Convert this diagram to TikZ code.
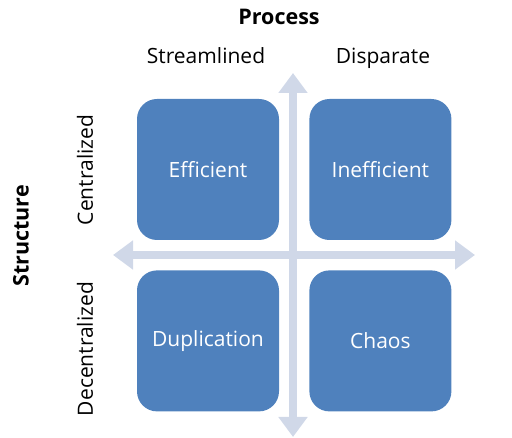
\documentclass[tikz,border=0pt]{standalone}
\usepackage{fontspec}
\setmainfont{Open Sans}
\usetikzlibrary{arrows.meta,positioning}
\definecolor{quadblue}{RGB}{79,129,189}
\definecolor{axisgrey}{RGB}{208,216,232}

\begin{document}
\begin{tikzpicture}[x=1pt,y=-1pt,quad/.style={fill=quadblue,rounded corners=20pt,minimum width=142pt,minimum height=141pt,text=white,font=\fontsize{21}{25}\selectfont,inner sep=0pt},lbl/.style={font=\fontsize{21}{25}\selectfont,inner sep=0pt},axis/.style={{Triangle[width=28pt,length=20pt]}-{Triangle[width=28pt,length=20pt]},line width=8pt,draw=axisgrey}]
\useasboundingbox (0,0) rectangle (512,438);
\node[quad] (eff) at (208,169.5) {Efficient};
\node[quad,right=30pt of eff] (ineff) {Inefficient};
\node[quad,below=30pt of eff] (dup) {Duplication};
\node[quad,right=30pt of dup] (chaos) {Chaos};
\coordinate (top) at (293,73);\coordinate (bot) at (293,437);
\coordinate (left) at (113,255);\coordinate (right) at (475,255);
\draw[axis](left)--(right);\draw[axis](top)--(bot);
\node[lbl,font=\fontsize{21.5}{25}\selectfont\bfseries] (proc) at (279,17) {Process};
\node[lbl] (stream) at (206,56) {Streamlined};
\node[lbl] (disp) at (383,58) {Disparate};
\node[lbl,font=\fontsize{21.5}{25}\selectfont\bfseries,rotate=90] (struct) at (21,236) {Structure};
\node[lbl,rotate=90] (cent) at (85,170) {Centralized};
\node[lbl,rotate=90] (decent) at (85,349) {Decentralized};
\end{tikzpicture}
\end{document}
